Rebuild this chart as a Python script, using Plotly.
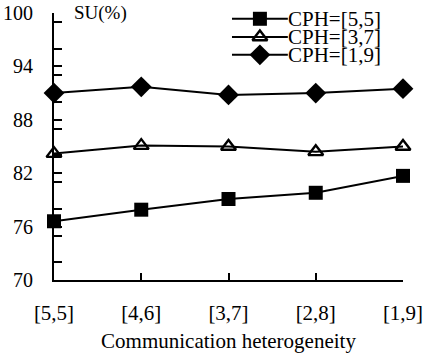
import plotly.graph_objects as go

categories = ["[5,5]", "[4,6]", "[3,7]", "[2,8]", "[1,9]"]
series_names = ["CPH=[5,5]", "CPH=[3,7]", "CPH=[1,9]"]
su_55 = [76.6, 77.9, 79.1, 79.8, 81.7]
su_37 = [84.2, 85.1, 85.0, 84.4, 85.0]
su_19 = [91.0, 91.7, 90.8, 91.0, 91.5]
y_ticks = [70, 76, 82, 88, 94, 100]

FONT = "Liberation Serif"
styles = [
    dict(symbol="square", size=14, color="black", line=dict(width=0)),
    dict(symbol="triangle-up-open", size=13, color="black", line=dict(width=2.4)),
    dict(symbol="diamond", size=16, color="black", line=dict(width=0)),
]

x_idx = list(range(len(categories)))

fig = go.Figure()
for name, vals, st in zip(series_names, [su_55, su_37, su_19], styles):
    fig.add_trace(go.Scatter(
        x=x_idx, y=vals, mode="lines+markers", name=name,
        line=dict(color="black", width=2), marker=st, cliponaxis=False,
        showlegend=False))

# hand-made legend (keys + labels) in the top-right corner of the plot area
leg_x0, leg_xm, leg_x1 = 2.04, 2.36, 2.68
leg_y = [99.35, 97.3, 95.3]
for name, st, ly in zip(series_names, styles, leg_y):
    fig.add_trace(go.Scatter(
        x=[leg_x0, leg_xm, leg_x1], y=[ly, ly, ly], mode="lines",
        line=dict(color="black", width=2), showlegend=False, hoverinfo="skip",
        cliponaxis=False))
    fig.add_trace(go.Scatter(
        x=[leg_xm], y=[ly], mode="markers",
        marker=st, showlegend=False, hoverinfo="skip", cliponaxis=False))
    fig.add_annotation(x=leg_x1, y=ly, text=name,
                       showarrow=False, xanchor="left", yanchor="middle",
                       xshift=-2, font=dict(family=FONT, size=21, color="black"))

fig.add_annotation(x=(72 - 54) / 349, y=1, xref="paper", yref="paper", text="SU(%)",
                   showarrow=False, xanchor="left", yanchor="middle",
                   font=dict(family=FONT, size=19, color="black"))

fig.update_layout(
    width=425, height=354,
    margin=dict(l=54, r=22, t=13, b=74, autoexpand=False),
    paper_bgcolor="white", plot_bgcolor="white",
    font=dict(family=FONT, size=19, color="black"),
    xaxis=dict(range=[0, 4], tickvals=x_idx, ticktext=categories,
               showline=True, linecolor="black",
               linewidth=2, ticks="inside", ticklen=7, tickwidth=2, tickcolor="black",
               showgrid=False, zeroline=False, ticklabelstandoff=13, automargin=False,
               tickfont=dict(family=FONT, size=21),
               title=dict(text="Communication heterogeneity", standoff=9,
                          font=dict(family=FONT, size=21))),
    yaxis=dict(range=[70, 100], tickvals=y_ticks, showline=True, linecolor="black",
               linewidth=2, ticks="inside", ticklen=8, tickwidth=2, tickcolor="black",
               showgrid=False, zeroline=False, ticklabelstandoff=15, automargin=False,
               tickfont=dict(family=FONT, size=20),
               minor=dict(dtick=3, ticks="inside", ticklen=8, tickwidth=2,
                          tickcolor="black", showgrid=False)),
    showlegend=False,
)

fig.write_html("out.html")
